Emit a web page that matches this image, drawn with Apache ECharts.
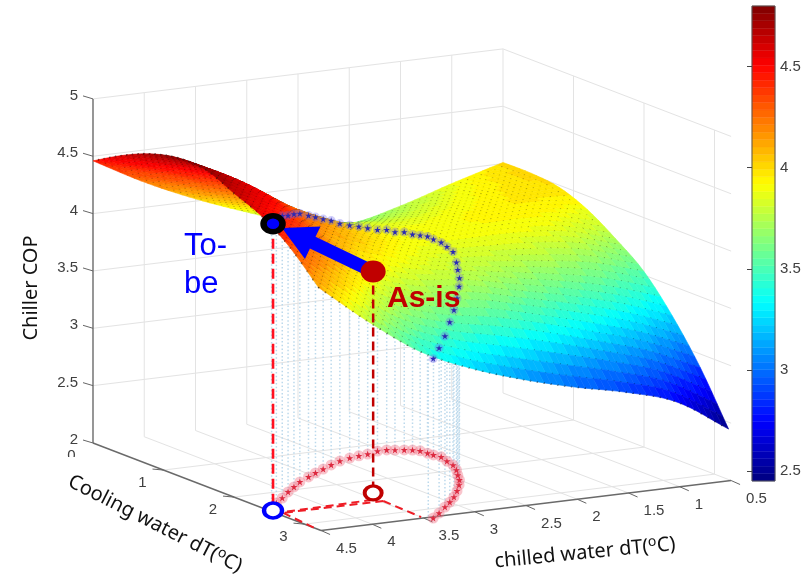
<!DOCTYPE html>
<html><head><meta charset="utf-8">
<style>html,body{margin:0;padding:0;background:#fff}#c{width:807px;height:576px}</style>
<script src="https://cdn.jsdelivr.net/npm/echarts@6/dist/echarts.min.js"></script>
</head><body><div id="c"></div>
<script>
// ---- data ----
const coolingGrid = [0, 0.4, 0.8, 1.2, 1.6, 2.0, 2.4, 2.8, 3.2];
const chilledGrid = [4.5, 4.0, 3.5, 3.0, 2.5, 2.0, 1.5, 1.0, 0.5];
const copAtChilled45 = [4.46, 4.60, 4.71, 4.77, 4.76, 4.65, 4.54, 4.36, 4.11];
const copAtChilled40 = [4.22, 4.37, 4.49, 4.55, 4.53, 4.44, 4.28, 4.03, 3.75];
const copAtChilled35 = [4.02, 4.13, 4.22, 4.27, 4.24, 4.10, 3.93, 3.71, 3.44];
const copAtChilled30 = [3.85, 3.94, 4.02, 4.06, 4.03, 3.93, 3.77, 3.55, 3.24];
const copAtChilled25 = [3.70, 3.80, 3.87, 3.91, 3.90, 3.83, 3.72, 3.46, 3.09];
const copAtChilled20 = [3.64, 3.76, 3.85, 3.90, 3.88, 3.78, 3.62, 3.35, 2.97];
const copAtChilled15 = [3.74, 3.83, 3.90, 3.93, 3.88, 3.73, 3.52, 3.22, 2.87];
const copAtChilled10 = [3.88, 3.93, 3.96, 3.94, 3.84, 3.66, 3.40, 3.08, 2.73];
const copAtChilled05 = [4.01, 4.01, 3.98, 3.88, 3.72, 3.53, 3.24, 2.88, 2.44];
const copRows = [copAtChilled45, copAtChilled40, copAtChilled35, copAtChilled30, copAtChilled25,
                 copAtChilled20, copAtChilled15, copAtChilled10, copAtChilled05];

const pathCooling = [2.49,2.31,2.19,2.04,1.92,1.80,1.69,1.60,1.52,1.43,1.35,1.30,1.27,1.25,1.20,1.20,1.23,1.26,1.29,1.34,1.43,1.50,1.58,1.72,1.85,2.00,2.15,2.29,2.43,2.59,2.75,2.88,3.00,3.15,3.27];
const pathChilled = [4.47,4.30,4.16,4.00,3.86,3.72,3.56,3.43,3.30,3.16,3.02,2.89,2.78,2.68,2.55,2.46,2.40,2.33,2.27,2.23,2.22,2.21,2.19,2.23,2.26,2.33,2.42,2.50,2.60,2.73,2.87,3.00,3.13,3.29,3.43];
const pathCop     = [4.49,4.47,4.46,4.41,4.38,4.34,4.28,4.23,4.18,4.13,4.07,4.03,4.00,3.97,3.93,3.92,3.90,3.90,3.88,3.88,3.89,3.88,3.87,3.87,3.86,3.81,3.79,3.76,3.73,3.68,3.63,3.57,3.49,3.44,3.39];

const asIs = {cooling: 2.36, chilled: 3.39, cop: 3.93};
const toBe = {cooling: 2.51, chilled: 4.47, cop: 4.50};
const floorDashes = [[2.62,3.47,3.2,3.5],[2.62,3.47,2.61,4.44],[2.61,4.44,3.14,4.5],[2.55,3.53,2.59,4.43]];

const copTicks = [2, 2.5, 3, 3.5, 4, 4.5, 5];
const coolingTicks = [0, 1, 2, 3];
const chilledTicks = [4.5, 4, 3.5, 3, 2.5, 2, 1.5, 1, 0.5];
const colorbarTicks = [2.5, 3, 3.5, 4, 4.5];
const coolMax = 3.235, chillMax = 4.5, chillMin = 0.5, copMin = 2, copMax = 5;
const cbMin = 2.45, cbMax = 4.8, levels = 64;

// ---- view of the box: orthographic projection to the page plane ----
function proj(c, h, z) {
  const u = chillMax - h;
  return [93 + 70.5 * c + 102.5 * u, 443 + 27.05 * c - 12.5 * u - 114.7 * (z - copMin)];
}
function jet(t) {
  const cl = v => Math.max(0, Math.min(1, v));
  const r = cl(Math.min(4 * t - 1.5, 4.5 - 4 * t));
  const g = cl(Math.min(4 * t - 0.5, 3.5 - 4 * t));
  const b = cl(Math.min(4 * t + 0.5, 2.5 - 4 * t));
  return 'rgb(' + Math.round(r * 255) + ',' + Math.round(g * 255) + ',' + Math.round(b * 255) + ')';
}
function levelColor(z) {
  let k = Math.floor((z - cbMin) / (cbMax - cbMin) * levels);
  k = Math.max(0, Math.min(levels - 1, k));
  return jet((k + 0.5) / levels);
}
// smooth (interpolated-shading style) evaluation of the read grid
function cr(a, t) {
  const n = a.length - 1, s = Math.min(n - 1, Math.floor(t)), f = t - s;
  const p1 = a[s], p2 = a[s + 1];
  const p0 = s > 0 ? a[s - 1] : 2 * p1 - p2, p3 = s + 2 <= n ? a[s + 2] : 2 * p2 - p1;
  return 0.5 * (2 * p1 + (p2 - p0) * f + (2 * p0 - 5 * p1 + 4 * p2 - p3) * f * f + (3 * p1 - p0 - 3 * p2 + p3) * f * f * f);
}
function surf(tu, tc) { return cr(copRows.map(r => cr(r, tc)), tu); }

const NU = 60, NC = 40;
const mesh = [];
for (let i = 0; i <= NU; i++) {
  const row = [], tu = i / NU * (copRows.length - 1), h = chilledGrid[0] + (chilledGrid[8] - chilledGrid[0]) * i / NU;
  for (let j = 0; j <= NC; j++) {
    const tc = j / NC * (coolingGrid.length - 1), c = coolingGrid[8] * j / NC;
    const z = surf(tu, tc);
    row.push({c, h, z, p: proj(c, h, z)});
  }
  mesh.push(row);
}
const cells = [];
for (let i = NU - 1; i >= 0; i--) for (let j = 0; j < NC; j++) cells.push([i, j]);

// ---- line layers ----
const gridSegs = [];
copTicks.slice(1).forEach(z => {
  gridSegs.push([0, chillMax, z, 0, chillMin, z]);
  gridSegs.push([0, chillMin, z, coolMax, chillMin, z]);
});
chilledTicks.slice(1).forEach(h => {
  gridSegs.push([0, h, copMin, 0, h, copMax]);
  if (h !== chillMin) gridSegs.push([0, h, copMin, coolMax, h, copMin]);
});
coolingTicks.slice(1).forEach(c => {
  gridSegs.push([c, chillMin, copMin, c, chillMin, copMax]);
  gridSegs.push([c, chillMax, copMin, c, chillMin, copMin]);
});
gridSegs.push([0, chillMin, copMin, coolMax, chillMin, copMin]);
const axisSegs = [
  [0, chillMax, copMin, 0, chillMax, copMax],
  [0, chillMax, copMin, coolMax, chillMax, copMin],
  [coolMax, chillMax, copMin, coolMax, chillMin, copMin]
];
const stemSegs = pathCooling.map((c, i) => [Math.min(c, coolingGrid[8]), pathChilled[i], copMin, Math.min(c, coolingGrid[8]), pathChilled[i], pathCop[i]]);
const floorSegs = floorDashes.map(d => [d[0], d[1], copMin, d[2], d[3], copMin]);

function segSeries(name, segs, style, z) {
  return {
    type: 'custom', name, coordinateSystem: 'cartesian2d', xAxisIndex: 0, yAxisIndex: 0, z, silent: true, clip: false,
    progressive: 0, data: segs.map(s => s.slice(0, 2)), encode: {x: 0, y: 1},
    renderItem(p, api) {
      const s = segs[p.dataIndex];
      const a = api.coord(proj(s[0], s[1], s[2])), b = api.coord(proj(s[3], s[4], s[5]));
      return {type: 'line', shape: {x1: a[0], y1: a[1], x2: b[0], y2: b[1]}, style};
    }
  };
}
function tickSeries(items, style, z) {
  return {
    type: 'custom', coordinateSystem: 'cartesian2d', xAxisIndex: 0, yAxisIndex: 0, z, silent: true, clip: false,
    data: items.map(s => s.slice(0, 2)), encode: {x: 0, y: 1},
    renderItem(p, api) {
      const s = items[p.dataIndex], a = api.coord(proj(s[0], s[1], s[2]));
      return {type: 'group', children: [
        {type: 'line', shape: {x1: a[0], y1: a[1], x2: a[0] + s[4], y2: a[1] + s[5]}, style: {stroke: '#666', lineWidth: 1}},
        {type: 'text', x: a[0] + s[6], y: a[1] + s[7], style: {text: s[3], fill: '#404040', font: '15px "Liberation Sans"', align: s[8], verticalAlign: 'middle'}}
      ]};
    }
  };
}
const copTickItems = copTicks.map(v => [0, chillMax, v, String(v), -10, -3, -15, -3, 'right']);
const coolTickItems = coolingTicks.slice(1).map(v => [v, chillMax, copMin, String(v), -11, -1, -21, 13, 'center']);
const chillTickItems = chilledTicks.map(v => [coolMax, v, copMin, String(v), 9, 4, 15, 18, 'left']);

function scatter(name, pts, size, color, z, extra) {
  return Object.assign({type: 'scatter', name, xAxisIndex: 0, yAxisIndex: 0, z, silent: true, symbol: 'circle', symbolSize: size,
    itemStyle: {color, opacity: 1}, data: pts, clip: false}, extra || {});
}
const floorPts = pathCooling.map((c, i) => proj(c, pathChilled[i], copMin));
const topPts = pathCooling.map((c, i) => proj(c, pathChilled[i], pathCop[i]));
const starPath = 'path://M5 0 L6.2 3.8 L10 3.8 L7 6.2 L8.2 10 L5 7.6 L1.8 10 L3 6.2 L0 3.8 L3.8 3.8 Z';

const asIsTop = proj(asIs.cooling, asIs.chilled, asIs.cop), asIsFloor = proj(asIs.cooling, asIs.chilled, copMin);
const toBeTop = proj(toBe.cooling, toBe.chilled, toBe.cop), toBeFloor = proj(toBe.cooling, toBe.chilled, copMin);

const cbData = [];
for (let k = 0; k < levels; k++) cbData.push([0, cbMin + (cbMax - cbMin) * k / levels, cbMin + (cbMax - cbMin) * (k + 1) / levels, (k + 0.5) / levels]);

const series = [
  segSeries('grid', gridSegs, {stroke: '#e3e3e3', lineWidth: 1}, 1),
  segSeries('axes', axisSegs, {stroke: '#6a6a6a', lineWidth: 1.4}, 2),
  tickSeries(copTickItems, {}, 2),
  tickSeries(coolTickItems, {}, 2),
  tickSeries(chillTickItems, {}, 2),
  segSeries('stems', stemSegs, {stroke: '#bcd9ec', lineWidth: 1.5, lineDash: [1.5, 2.2]}, 3),
  {
    type: 'custom', name: 'surface', coordinateSystem: 'cartesian2d', xAxisIndex: 0, yAxisIndex: 0, z: 4, silent: true, clip: false,
    progressive: 0, animation: false, data: cells, encode: {x: 0, y: 1},
    renderItem(p, api) {
      const [i, j] = cells[p.dataIndex];
      const q = [mesh[i][j], mesh[i][j + 1], mesh[i + 1][j + 1], mesh[i + 1][j]];
      const pts = q.map(m => api.coord(m.p));
      const col = levelColor((q[0].z + q[1].z + q[2].z + q[3].z) / 4);
      return {type: 'group', children: [
        {type: 'polygon', shape: {points: pts}, style: {fill: col, stroke: col, lineWidth: 0.6}},
        {type: 'circle', shape: {cx: pts[1][0], cy: pts[1][1], r: 0.9}, style: {fill: 'rgba(20,20,20,0.68)'}}
      ]};
    }
  },
  segSeries('floor dashes', floorSegs, {stroke: '#ee1c25', lineWidth: 2, lineDash: [8, 5]}, 5),
  scatter('red halo', floorPts, 11, 'rgba(240,110,130,0.4)', 5),
  scatter('red stars', floorPts, 7, '#dd2a40', 5, {symbol: starPath}),
  scatter('blue halo', topPts, 9, 'rgba(110,100,240,0.32)', 6),
  scatter('blue stars', topPts, 6.5, '#2a2ab4', 6, {symbol: starPath}),
  segSeries('to-be drop', [[toBe.cooling, toBe.chilled, toBe.cop, toBe.cooling, toBe.chilled, copMin]], {stroke: '#ff1020', lineWidth: 2.6, lineDash: [10, 5]}, 6),
  segSeries('as-is drop', [[asIs.cooling, asIs.chilled, asIs.cop, asIs.cooling, asIs.chilled, copMin]], {stroke: '#c00000', lineWidth: 2.5, lineDash: [9, 5]}, 6),
  {
    type: 'custom', name: 'arrow', coordinateSystem: 'cartesian2d', xAxisIndex: 0, yAxisIndex: 0, z: 7, silent: true, clip: false,
    data: [asIsTop], encode: {x: 0, y: 1},
    renderItem(p, api) {
      const a = api.coord(asIsTop), b = api.coord(toBeTop);
      const tip = [a[0] + 0.91 * (b[0] - a[0]), a[1] + 0.91 * (b[1] - a[1])];
      const L = Math.hypot(tip[0] - a[0], tip[1] - a[1]), ux = (a[0] - tip[0]) / L, uy = (a[1] - tip[1]) / L, nx = -uy, ny = ux;
      const bc = [tip[0] + 34 * ux, tip[1] + 34 * uy], w = 6.5;
      return {type: 'group', children: [
        {type: 'polygon', shape: {points: [tip, [bc[0] + 18 * nx, bc[1] + 18 * ny], [bc[0] + w * nx, bc[1] + w * ny], [a[0] + w * nx, a[1] + w * ny], [a[0] - w * nx, a[1] - w * ny], [bc[0] - w * nx, bc[1] - w * ny], [bc[0] - 18 * nx, bc[1] - 18 * ny]]}, style: {fill: '#0000ff'}}
      ]};
    }
  },
  scatter('as-is', [asIsTop], [25, 22], '#c00000', 8),
  scatter('to-be', [toBeTop], [19, 16], '#0000ff', 8, {itemStyle: {color: '#0000ff', borderColor: '#000', borderWidth: 6, opacity: 1}}),
  scatter('as-is floor', [asIsFloor], [17, 14], '#fff', 8, {itemStyle: {color: '#fff', borderColor: '#c00000', borderWidth: 3.6, opacity: 1}}),
  scatter('to-be floor', [toBeFloor], [18, 15], '#fff', 8, {itemStyle: {color: '#fff', borderColor: '#0000ff', borderWidth: 4, opacity: 1}}),
  {
    type: 'custom', name: 'colorbar', coordinateSystem: 'cartesian2d', xAxisIndex: 1, yAxisIndex: 1, z: 2, silent: true,
    data: cbData, encode: {x: 0, y: 1},
    renderItem(p, api) {
      const d = cbData[p.dataIndex], a = api.coord([0, d[1]]), b = api.coord([1, d[2]]);
      return {type: 'rect', shape: {x: a[0], y: b[1], width: b[0] - a[0], height: a[1] - b[1]}, style: {fill: jet(d[3]), stroke: jet(d[3]), lineWidth: 0.4}};
    }
  },
  {
    type: 'custom', name: 'colorbar box', coordinateSystem: 'cartesian2d', xAxisIndex: 1, yAxisIndex: 1, z: 3, silent: true,
    data: [[0, cbMin]], encode: {x: 0, y: 1},
    renderItem(p, api) {
      const a = api.coord([0, cbMin]), b = api.coord([1, cbMax]);
      return {type: 'rect', shape: {x: a[0], y: b[1], width: b[0] - a[0], height: a[1] - b[1]}, style: {fill: 'none', stroke: '#555', lineWidth: 1}};
    }
  }
];

const nameFont = '"Noto Sans"';
const option = {
  animation: false,
  backgroundColor: '#fff',
  grid: [
    {left: 0, top: 0, width: 807, height: 576},
    {left: 752, top: 6, width: 23, height: 475}
  ],
  xAxis: [
    {type: 'value', min: 0, max: 807, show: false, gridIndex: 0},
    {type: 'value', min: 0, max: 1, show: false, gridIndex: 1}
  ],
  yAxis: [
    {type: 'value', min: 0, max: 576, inverse: true, show: false, gridIndex: 0},
    {type: 'value', min: cbMin, max: cbMax, gridIndex: 1, position: 'right', z: 10,
      axisLine: {show: false}, splitLine: {show: false},
      axisTick: {show: true, inside: true, length: 5, lineStyle: {color: '#444'}, customValues: colorbarTicks},
      axisLabel: {show: true, margin: 5, color: '#404040', fontFamily: 'Liberation Sans', fontSize: 15, customValues: colorbarTicks, formatter: v => String(v)}}
  ],
  series,
  graphic: [
    {type: 'text', z: 20, x: 71.5, y: 456, style: {text: '0', fill: '#404040', font: '15px "Liberation Sans"', align: 'center', verticalAlign: 'middle'}},
    {type: 'rect', z: 21, shape: {x: 60, y: 457, width: 24, height: 10}, style: {fill: '#fff'}},
    {type: 'text', z: 22, x: 31, y: 288, rotation: Math.PI / 2, style: {text: 'Chiller COP', fill: '#111', font: '20px ' + nameFont, align: 'center', verticalAlign: 'middle'}},
    {type: 'text', z: 22, x: 155, y: 524, rotation: -27 * Math.PI / 180, style: {
      text: '{a|Cooling water dT(}{s|o}{a|C)}', align: 'center', verticalAlign: 'middle',
      rich: {a: {font: '20px ' + nameFont, fill: '#111'}, s: {font: '14px ' + nameFont, fill: '#111', padding: [0, 0, 9, 0]}}}},
    {type: 'text', z: 22, x: 585, y: 553, rotation: 5.6 * Math.PI / 180, style: {
      text: '{a|chilled water dT(}{s|o}{a|C)}', align: 'center', verticalAlign: 'middle',
      rich: {a: {font: '20px ' + nameFont, fill: '#111'}, s: {font: '14px ' + nameFont, fill: '#111', padding: [0, 0, 9, 0]}}}},
    {type: 'text', z: 22, x: 184, y: 246, style: {text: 'To-', fill: '#0000ff', font: '31px "Liberation Sans"', verticalAlign: 'middle'}},
    {type: 'text', z: 22, x: 184, y: 284, style: {text: 'be', fill: '#0000ff', font: '31px "Liberation Sans"', verticalAlign: 'middle'}},
    {type: 'text', z: 22, x: 387, y: 299, style: {text: 'As-is', fill: '#c00000', font: 'bold 30px "Liberation Sans"', verticalAlign: 'middle'}}
  ]
};
const chart = echarts.init(document.getElementById('c'), null, {renderer: 'canvas'});
chart.setOption(option);
</script></body></html>
